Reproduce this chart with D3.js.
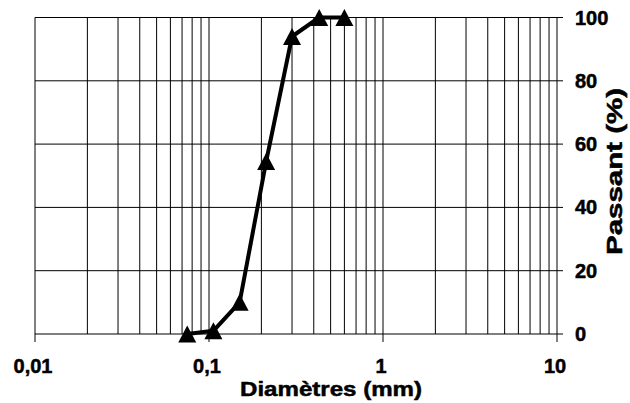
<!DOCTYPE html>
<html>
<head>
<meta charset="utf-8">
<script src="https://cdn.jsdelivr.net/npm/d3@7"></script>
<style>
  body { margin: 0; background: #fff; }
  text { font-family: "Liberation Sans", Arial, sans-serif; font-weight: bold; fill: #000; stroke: #000; stroke-width: 0.5; }
</style>
</head>
<body>
<script>
// granulometric curve
var diam = [0.075, 0.106, 0.15, 0.213, 0.30, 0.43, 0.60];
var passant = [0, 1, 10, 54.5, 94, 100, 100];
var xTickValues = [0.01, 0.1, 1, 10];
var xTickLabels = ["0,01", "0,1", "1", "10"];
var yTickValues = [0, 20, 40, 60, 80, 100];

onload = function () {

  var width = 630,
      height = 403;

  var svg = d3.select("body").append("svg")
              .attr("width", width)
              .attr("height", height);

  var x = d3.scaleLog().domain([0.01, 10]).range([35, 557]);
  var y = d3.scaleLinear().domain([0, 100]).range([334, 17.5]);

  // all the log grid lines 0.01 .. 10
  var minor = [];
  [0.01, 0.1, 1].forEach(function (dec) {
    for (var k = 1; k < 10; k++) minor.push(dec * k);
  });
  minor.push(10);

  svg.append("g").selectAll("line")
    .data(minor)
    .enter().append("line")
    .attr("x1", function (d) { return x(d); })
    .attr("x2", function (d) { return x(d); })
    .attr("y1", y(100))
    .attr("y2", function (d) { return xTickValues.indexOf(d) >= 0 ? y(0) + 8 : y(0); })
    .attr("stroke", "#000")
    .attr("stroke-width", 1);

  svg.append("g").selectAll("line")
    .data(yTickValues)
    .enter().append("line")
    .attr("x1", x(0.01))
    .attr("x2", x(10) + 6)
    .attr("y1", function (d) { return y(d); })
    .attr("y2", function (d) { return y(d); })
    .attr("stroke", "#000")
    .attr("stroke-width", 1);

  // x tick labels
  svg.append("g").selectAll("text")
    .data(xTickValues)
    .enter().append("text")
    .text(function (d, i) { return xTickLabels[i]; })
    .attr("text-anchor", "middle")
    .attr("font-size", 20)
    .attr("x", function (d) { return x(d) - 2; })
    .attr("y", 373);

  // y tick labels (right side)
  svg.append("g").selectAll("text")
    .data(yTickValues)
    .enter().append("text")
    .text(function (d) { return d; })
    .attr("font-size", 20)
    .attr("x", 575)
    .attr("y", function (d) { return y(d) + 7; });

  svg.append("text")
    .text("Diamètres (mm)")
    .attr("font-size", 21)
    .attr("x", 240)
    .attr("y", 396)
    .attr("textLength", 182)
    .attr("lengthAdjust", "spacingAndGlyphs");

  svg.append("text")
    .text("Passant (%)")
    .attr("font-size", 22)
    .attr("textLength", 167)
    .attr("lengthAdjust", "spacingAndGlyphs")
    .attr("transform", "translate(622,255) rotate(-90)");

  var pts = diam.map(function (d, i) { return [d, passant[i]]; });

  var line = d3.line()
    .x(function (d) { return x(d[0]); })
    .y(function (d) { return y(d[1]); });

  svg.append("path")
    .datum(pts)
    .attr("d", line)
    .attr("fill", "none")
    .attr("stroke", "#000")
    .attr("stroke-width", 4)
    .attr("stroke-linejoin", "round");

  svg.selectAll("path.mark")
    .data(pts)
    .enter().append("path")
    .attr("class", "mark")
    .attr("d", "M0,-8.5L9,8.5L-9,8.5Z")
    .attr("transform", function (d) { return "translate(" + x(d[0]) + "," + y(d[1]) + ")"; })
    .attr("fill", "#000");

}
</script>
</body>
</html>
